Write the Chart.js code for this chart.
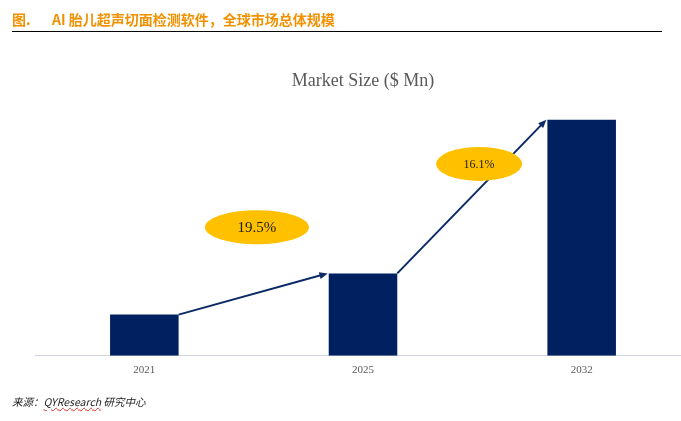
<!DOCTYPE html>
<html lang="zh-CN">
<head>
    <meta charset="UTF-8">
    <title>AI 胎儿超声切面检测软件，全球市场总体规模</title>
    <script src="https://cdn.jsdelivr.net/npm/chart.js"></script>
    <style>
        html, body {
            margin: 0;
            padding: 0;
            width: 681px;
            height: 421px;
            overflow: hidden;
            background: #fff;
        }
        .titulo {
            position: absolute;
            left: 12px;
            top: 10px;
            width: 650px;
            height: 21px;
            border-bottom: 1.3px solid #000;
            font-family: "Noto Sans CJK SC", sans-serif;
            font-weight: bold;
            font-size: 14px;
            line-height: 18px;
            color: #F29100;
            z-index: 2;
        }
        .titulo .num { display: inline-block; width: 40px; }
        .fonte {
            position: absolute;
            left: 12px;
            top: 394px;
            font-family: "Noto Sans CJK SC", sans-serif;
            font-style: italic;
            font-size: 10.5px;
            color: #222;
            z-index: 2;
        }
        .fonte .qy {
            text-decoration: underline wavy #d33;
            text-decoration-thickness: 1px;
        }
        #grafico {
            position: absolute;
            left: 0;
            top: 0;
        }
    </style>
</head>
<body>
    <div class="titulo"><span class="num">图.</span>AI 胎儿超声切面检测软件，全球市场总体规模</div>
    <canvas id="grafico" width="700" height="421"></canvas>
    <div class="fonte">来源：<span class="qy">QYResearch</span> 研究中心</div>

    <script>
        // dados
        const anos = ['2021', '2025', '2032'];
        const mercado = [41, 82, 235];
        const cagr = ['19.5%', '16.1%'];

        // setas entre as barras e elipses com a taxa de crescimento
        const setasPlugin = {
            id: 'setas',
            afterDatasetsDraw(chart) {
                const ctx = chart.ctx;
                const barras = chart.getDatasetMeta(0).data;
                const xs = chart.scales.x;
                const ys = chart.scales.y;

                ctx.save();
                ctx.strokeStyle = '#0B2A66';
                ctx.fillStyle = '#0B2A66';
                ctx.lineWidth = 2;
                for (let i = 0; i < barras.length - 1; i++) {
                    const a = barras[i], b = barras[i + 1];
                    const x1 = a.x + a.width / 2, y1 = a.y;
                    const x2 = b.x - b.width / 2 - 1, y2 = b.y;
                    const ang = Math.atan2(y2 - y1, x2 - x1);
                    const cab = 9;
                    ctx.beginPath();
                    ctx.moveTo(x1, y1);
                    ctx.lineTo(x2 - Math.cos(ang) * cab * 0.8, y2 - Math.sin(ang) * cab * 0.8);
                    ctx.stroke();
                    ctx.beginPath();
                    ctx.moveTo(x2, y2);
                    ctx.lineTo(x2 - cab * Math.cos(ang - 0.4), y2 - cab * Math.sin(ang - 0.4));
                    ctx.lineTo(x2 - cab * Math.cos(ang + 0.4), y2 - cab * Math.sin(ang + 0.4));
                    ctx.closePath();
                    ctx.fill();
                }

                // elipses amarelas
                const elipses = [
                    { x: 0.515, y: 128, rx: 52, ry: 17, fonte: 15 },
                    { x: 1.531, y: 191, rx: 43, ry: 17, fonte: 12 }
                ];
                elipses.forEach((e, i) => {
                    const cx = xs.getPixelForValue(e.x);
                    const cy = ys.getPixelForValue(e.y);
                    ctx.beginPath();
                    ctx.ellipse(cx, cy, e.rx, e.ry, 0, 0, Math.PI * 2);
                    ctx.fillStyle = '#FFC000';
                    ctx.fill();
                    ctx.fillStyle = '#1a1a1a';
                    ctx.font = e.fonte + 'px "Liberation Serif", serif';
                    ctx.textAlign = 'center';
                    ctx.textBaseline = 'middle';
                    ctx.fillText(cagr[i], cx, cy + 1);
                });
                ctx.restore();
            }
        };

        const ctx = document.getElementById('grafico').getContext('2d');
        const grafico = new Chart(ctx, {
            type: 'bar',
            data: {
                labels: anos,
                datasets: [{
                    label: 'Market Size ($ Mn)',
                    data: mercado,
                    backgroundColor: '#002060',
                    barPercentage: 0.3135,
                    categoryPercentage: 1
                }]
            },
            options: {
                responsive: false,
                animation: false,
                layout: {
                    padding: { left: 35, right: 9, top: 70, bottom: 36 }
                },
                plugins: {
                    legend: { display: false },
                    tooltip: { enabled: false },
                    title: {
                        display: true,
                        text: 'Market Size ($ Mn)',
                        color: '#595959',
                        font: { family: '"Liberation Serif", serif', size: 18, weight: 'normal' },
                        padding: { top: 0, bottom: 13 }
                    }
                },
                scales: {
                    x: {
                        grid: { display: false, drawTicks: false },
                        border: { display: true, color: '#D0D4DC', width: 1 },
                        ticks: {
                            color: '#595959',
                            padding: 8,
                            font: { family: '"Liberation Serif", serif', size: 11 }
                        }
                    },
                    y: {
                        display: false,
                        min: 0,
                        max: 250
                    }
                }
            },
            plugins: [setasPlugin]
        });
    </script>
</body>
</html>
